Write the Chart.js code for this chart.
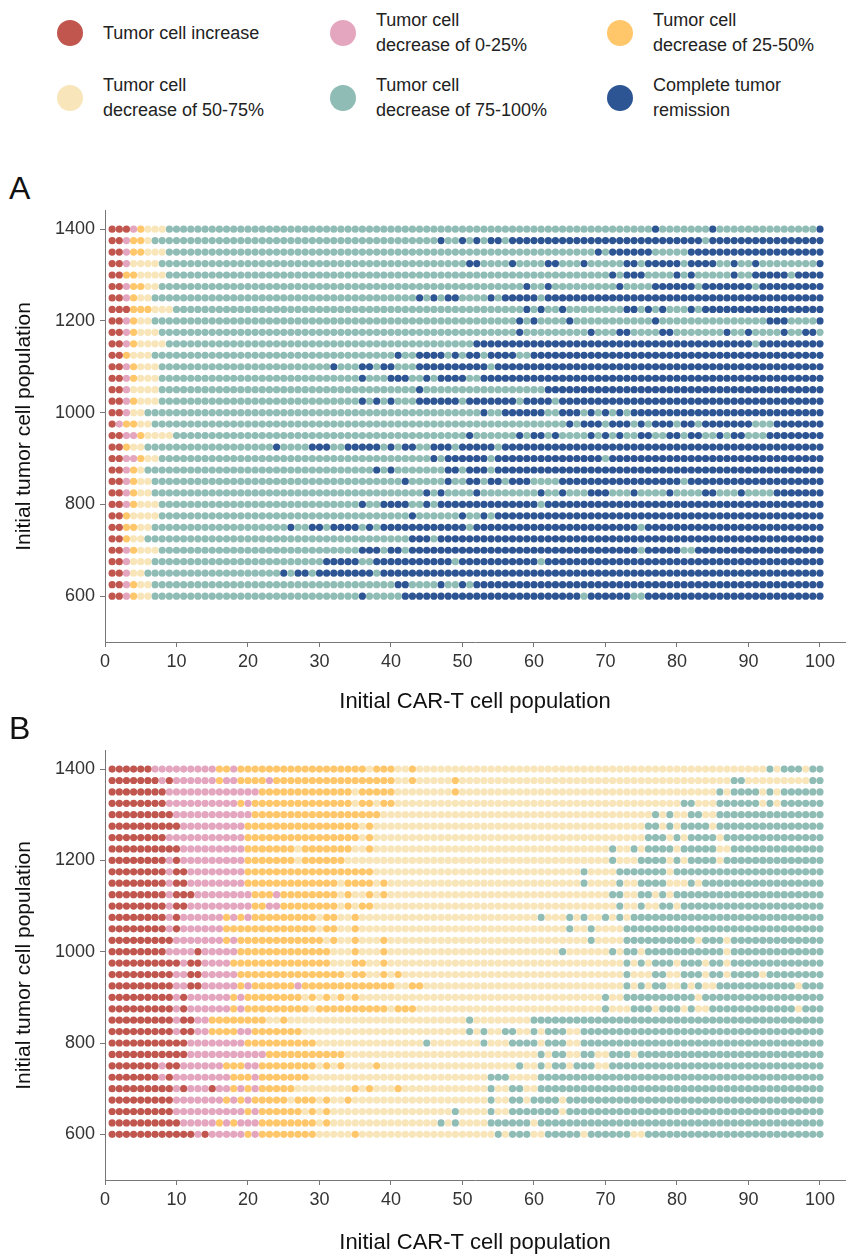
<!DOCTYPE html>
<html>
<head>
<meta charset="utf-8">
<script src="https://cdn.jsdelivr.net/npm/chart.js@4.4.0/dist/chart.umd.min.js"></script>
<style>
body { margin: 0; width: 849px; height: 1256px; background: #fff; position: relative; overflow: hidden;
       font-family: "Liberation Sans", Arial, sans-serif; color: #222; }
.leg { position: absolute; height: 52px; display: flex; align-items: center; font-size: 18px; line-height: 25px; }
.dot { width: 26px; height: 26px; border-radius: 50%; margin-right: 20px; flex: none; }
.panel { position: absolute; left: 9px; font-size: 32px; line-height: 32px; color: #111; }
.wrap { position: absolute; left: 0; width: 849px; }
</style>
</head>
<body>

<div class="leg" style="left:57px;top:7px"><div class="dot" style="background:#C0564E"></div>Tumor cell increase</div>
<div class="leg" style="left:330px;top:7px"><div class="dot" style="background:#E4A6BE"></div>Tumor cell<br>decrease of 0-25%</div>
<div class="leg" style="left:607px;top:7px"><div class="dot" style="background:#FFC66A"></div>Tumor cell<br>decrease of 25-50%</div>
<div class="leg" style="left:57px;top:72px"><div class="dot" style="background:#F8E6BA"></div>Tumor cell<br>decrease of 50-75%</div>
<div class="leg" style="left:330px;top:72px"><div class="dot" style="background:#8FBCB5"></div>Tumor cell<br>decrease of 75-100%</div>
<div class="leg" style="left:607px;top:72px"><div class="dot" style="background:#2D5493"></div>Complete tumor<br>remission</div>

<div class="panel" style="top:172px">A</div>
<div class="wrap" style="top:195px;height:520px"><canvas id="chartA"></canvas></div>
<div class="panel" style="top:712px">B</div>
<div class="wrap" style="top:735px;height:521px"><canvas id="chartB"></canvas></div>

<script>
// --- DATOS ---
const CATEGORIES = ['Tumor cell increase', 'Tumor cell decrease of 0-25%', 'Tumor cell decrease of 25-50%',
                    'Tumor cell decrease of 50-75%', 'Tumor cell decrease of 75-100%', 'Complete tumor remission'];
const CODES = ['R', 'P', 'O', 'C', 'T', 'N'];
const COLORS = ['#C0564E', '#E4A6BE', '#FFC66A', '#F8E6BA', '#8FBCB5', '#2D5493'];

const X_COLS = [1,2,3,4,5,6,7,8,9,10,11,12,13,14,15,16,17,18,19,20,21,22,23,24,25,26,27,28,29,30,
  31,32,33,34,35,36,37,38,39,40,41,42,43,44,45,46,47,48,49,50,51,52,53,54,55,56,57,58,59,60,
  61,62,63,64,65,66,67,68,69,70,71,72,73,74,75,76,77,78,79,80,81,82,83,84,85,86,87,88,89,90,
  91,92,93,94,95,96,97,98,99,100];
const Y_ROWS = [1400,1375,1350,1325,1300,1275,1250,1225,1200,1175,1150,1125,1100,1075,1050,1025,
  1000,975,950,925,900,875,850,825,800,775,750,725,700,675,650,625,600];
const X_TICKS = [0,10,20,30,40,50,60,70,80,90,100];
const Y_TICKS = [600,800,1000,1200,1400];

// Cada fila: letra de categoría + columna donde empieza el tramo (sigue hasta el siguiente tramo)
const ROWS_A = [
  'R1 P4 O5 C6 T9 N77 T78 N85 T86 N100',
  'R1 P3 O4 C6 T7 N47 T48 N50 T51 N52 T53 N54 T56 N57 T84 N85',
  'R1 P3 O4 C6 T9 N69 T70 N71 T77 N82',
  'R1 P3 C4 T8 N51 T53 N57 T58 N62 T64 N67 T68 N73 T75 N76 T81 N82 T86 N88 T89 N91 T92 N100',
  'R1 O3 C5 T9 N71 T72 N73 T76 N80 T81 N82 T83 N88 T89 N91 T96 N97',
  'R1 P3 O4 C6 T8 N59 T60 N62 T63 N72 T73 N77 T83 N84 T91 N92',
  'R1 P3 O4 C5 T7 N44 T45 N46 T47 N48 T50 N54 T55 N56 T61 N62',
  'R1 O4 C7 T10 N59 T60 N61 T62 N64 T65 N73 T75 N76 T77 N78 T79 N82 T83 N84',
  'R1 P3 O4 C5 T7 N58 T59 N60 T61 N65 T66 N77 T78 N93 T96 N100',
  'R1 P3 O4 C5 T8 N58 T59 N68 T69 N72 T74 N78 T80 N87 T88 N90 T91 N95 T96 N98 T100',
  'R1 P3 O4 C5 T9 N52 T91 N92',
  'R1 O3 C4 T7 N41 T42 N44 T48 N49 T50 N51 T53 N54 T58 N60',
  'R1 P3 O4 C5 T8 N32 T33 N36 T38 N39 T41 N44 T54 N55',
  'R1 P3 O4 C5 T8 N36 T37 N40 T43 N45 T46 N47 T51 N53',
  'R1 P3 C4 T8 N44 T45 N62',
  'R1 P3 O4 C5 T8 N36 T37 N38 T39 N40 T41 N44 T50 N51 T58 N59 T63 N64',
  'R1 P3 C4 T6 N53 T54 N56 T62 N64 T67 N68 T69 N70 T71 N72 T73 N74',
  'R1 P2 O3 C5 T7 N65 T66 N67 T70 N71 T74 N75 T76 N77 T80 N81 T83 N84 T91 N94',
  'R1 P3 O5 C6 T10 N51 T52 N58 T59 N60 T62 N63 T64 N68 T69 N70 T71 N72 T73 N75 T77 N79 T81 N82 T84 N86 T87 N88 T90 N93',
  'R1 O3 C4 T6 N24 T25 N29 T32 N34 T39 N40 T41 N42 T44 N46 T49 N50 T55 N56',
  'R1 P3 O5 C6 T8 N46 T47 N48 T54 N55 T70 N71',
  'R1 P3 O4 C5 T6 N38 T39 N40 T41 N48 T50 N51 T54 N55',
  'R1 P3 O4 C5 T7 N42 T43 N48 T49 N51 T53 N54 T56 N57 T60 N64 T81 N82',
  'R1 P3 O4 C5 T7 N45 T46 N47 T48 N52 T53 N61 T62 N64 T65 N68 T71 N74 T75 N79 T80 N84 T86 N89 T90 N94',
  'R1 P3 O4 C5 T8 N36 T37 N39 T43 N45 T46 N47 T61 N62',
  'R1 O3 C4 T8 N43 T44 N50 T51 N53 T54 N55',
  'R1 O3 C5 T7 N26 T27 N29 T31 N32 T36 N37 T38 N39 T51 N52 T75 N76',
  'R1 O3 C4 T6 N43 T46 N47',
  'R1 P3 O4 C5 T8 N36 T39 N40 T42 N43 T75 N76 T81 N83',
  'R1 P3 C4 T7 N31 T36 N38 T49 N50 T61 N62',
  'R1 P3 C4 T6 N25 T26 N27 T29 N30 T38 N39',
  'R1 P3 O4 C5 T7 N41 T43 N47 T48 N50 T51 N52',
  'R1 P3 O4 C5 T7 N36 T37 N42 T67 N68 T74 N76'
];

const ROWS_B = [
  'R1 P7 O16 P18 O19 C37 O38 C41 O43 C44 T93 C94 T95 C98 T99',
  'R1 P8 R9 P10 O16 P17 O19 P23 O24 C41 O43 C44 O49 C50 T88 C90 T99',
  'R1 P9 O22 C35 O36 C41 O49 C50 T86 C87 T88 C92 T93 C94 T95',
  'R1 P9 O19 P20 O21 C35 O36 C38 O39 C41 T81 C83 T86 C92 T93 C94 T95',
  'R1 P10 O21 C39 T77 C78 T79 C80 T82 C84 T86',
  'R1 P11 O20 C36 O37 C38 T76 C78 T79 C80 T81 C85 T86',
  'R1 P9 O20 C36 O37 C38 T76 C79 T80 C81 T82 C86 T87',
  'R1 P11 O20 C27 O28 C35 O37 C38 T71 C72 T74 C75 T76 C80 T81 C86 T88',
  'R1 P9 R10 P11 O20 C27 O28 C34 T71 C72 T75 C79 T80 C81 T82 C86 T87',
  'R1 P9 R10 P12 O20 C38 T67 C68 T72 C79 T80',
  'R1 P9 R10 P12 O20 C33 O34 C38 O39 C40 T67 C68 T72 C73 T75 C79 T82 C83 T84',
  'R1 P9 R10 P13 O21 P24 O25 C33 O34 C35 O37 C38 O39 C40 T71 C73 T75 C77 T78 C79 T80',
  'R1 P9 R10 P12 O21 P23 O25 C33 O34 C35 O36 C38 T72 C73 T75 C76 T78 C80 T81',
  'R1 P9 R10 P11 O17 P18 O19 P20 O21 C30 O31 C33 O35 C36 T61 C62 T65 C66 T67 C68 T70 C71 T72 C73 T74',
  'R1 P9 R10 P11 O17 C30 O31 C33 O35 C36 T65 C66 T68 C69 T73',
  'R1 P10 O17 P18 O19 C31 O32 C33 O35 C36 O39 C40 T68 C69 T73 C83 T84 C87 T88',
  'R1 P9 R13 P14 O19 C32 O35 C36 O39 C40 T64 C65 T71 C72 T73 C75 T76 C87 T88',
  'R1 P11 R12 P14 O18 C32 O35 C37 O39 C40 T73 C74 T75 C76 T77 C80 T81 C84 T85 C87 T88',
  'R1 P10 R12 P14 O19 C34 O35 C37 O39 C40 O41 C42 T73 C74 T77 C79 T81 C84 T85 C87 T88 C92 T93',
  'R1 P10 R12 P14 O19 P20 O21 P27 O28 C41 O43 C45 T73 C74 T75 C76 T77 C79 T81 C82 T83 C84 T86 C97 T98',
  'R1 P10 R11 P12 O18 P19 O20 C28 O29 C30 O31 C32 O33 C34 O35 C36 T70 C71 T73 C83 T84',
  'R1 P10 R11 P12 O18 P19 O20 C29 O30 C40 O41 C44 T70 C71 T74 C77 T78 C81 T82 C83 T85 C97 T98',
  'R1 P10 R11 P13 O15 C23 O25 C26 T51 C52 T60',
  'R1 P10 R11 P13 O15 P19 O21 C28 T51 C52 T53 C54 T56 C58 T60 C61 T62 C65 T67',
  'R1 P12 O20 C30 T45 C46 T53 C54 T57 C61 T62 C65 T67',
  'R1 P12 O23 C34 T61 C62 T63 C65 T67 C69 T71 C74 T75',
  'R1 P8 R9 P11 O17 P20 O22 C30 O31 C32 O33 C34 O38 C39 T58 C59 T61 C62 T63 C65 T66 C69 T71',
  'R1 P8 R9 P10 O18 P21 O22 C29 T54 C57 T61',
  'R1 P10 R11 P12 R15 P16 O18 P19 O20 P21 O22 C27 O35 C36 O37 C38 O41 C42 T54 C55 T57 C59 T61',
  'R1 P10 O17 P18 O19 P20 O21 C26 O27 C30 O31 C32 O34 C35 T54 C55 T57 C59 T60 C64 T65',
  'R1 P10 O20 P21 O22 C28 O29 C30 O31 C32 T49 C50 T54 C55 T57 C64 T65',
  'R1 P11 O16 P17 O18 P19 O22 C30 O31 C32 T47 C48 T49 C50 T54 C60 T61',
  'R1 P13 R14 P15 O20 P21 O22 C30 O35 C36 T55 C56 T57 C60 T62 C67 T68 C74 T76'
];

// --- DECODIFICAR ---
function decodeRow(code) {
  const tokens = code.split(' ');
  const out = [];
  tokens.forEach((t, i) => {
    const start = +t.slice(1);
    const end = i < tokens.length - 1 ? +tokens[i + 1].slice(1) - 1 : X_COLS.length;
    for (let x = start; x <= end; x++) out[x - 1] = t[0];
  });
  return out;
}

const FONT = '"Liberation Sans", Arial, sans-serif';

function makeChart(id, rows, padTop, xHeight, xTitlePad) {
  const datasets = CATEGORIES.map((name, ci) => ({
    label: name,
    data: [],
    backgroundColor: COLORS[ci],
    borderWidth: 0,
    pointRadius: 3.6,
    pointHoverRadius: 3.6
  }));
  rows.forEach((code, k) => {
    decodeRow(code).forEach((c, i) => {
      datasets[CODES.indexOf(c)].data.push({ x: X_COLS[i], y: Y_ROWS[k] });
    });
  });

  return new Chart(document.getElementById(id), {
    type: 'scatter',
    data: { datasets },
    options: {
      responsive: true,
      maintainAspectRatio: false,
      animation: false,
      events: [],
      layout: { padding: { top: padTop, right: 4, left: 0, bottom: 0 } },
      plugins: { legend: { display: false }, tooltip: { enabled: false } },
      scales: {
        x: {
          type: 'linear', min: 0, max: 103.5,
          afterBuildTicks: s => { s.ticks = X_TICKS.map(v => ({ value: v })); },
          afterFit: s => { s.height = xHeight; },
          ticks: { font: { size: 18, family: FONT }, color: '#333', padding: 4, maxRotation: 0,
                   callback: v => String(v) },
          grid: { drawOnChartArea: false, tickLength: 5, color: '#777' },
          border: { color: '#777' },
          title: { display: true, text: 'Initial CAR-T cell population', color: '#111',
                   font: { size: 22, family: FONT }, padding: { top: xTitlePad, bottom: 0 } }
        },
        y: {
          type: 'linear', min: 500, max: 1440,
          afterBuildTicks: s => { s.ticks = Y_TICKS.map(v => ({ value: v })); },
          afterFit: s => { s.width = 105; },
          ticks: { font: { size: 18, family: FONT }, color: '#333', padding: 5,
                   callback: v => String(v) },
          grid: { drawOnChartArea: false, tickLength: 5, color: '#777' },
          border: { color: '#777' },
          title: { display: true, text: 'Initial tumor cell population', color: '#111',
                   font: { size: 21, family: FONT }, padding: { top: 12, bottom: 0 } }
        }
      }
    }
  });
}

makeChart('chartA', ROWS_A, 13.5, 73, 9);
makeChart('chartB', ROWS_B, 12.6, 76, 4);
</script>
</body>
</html>
